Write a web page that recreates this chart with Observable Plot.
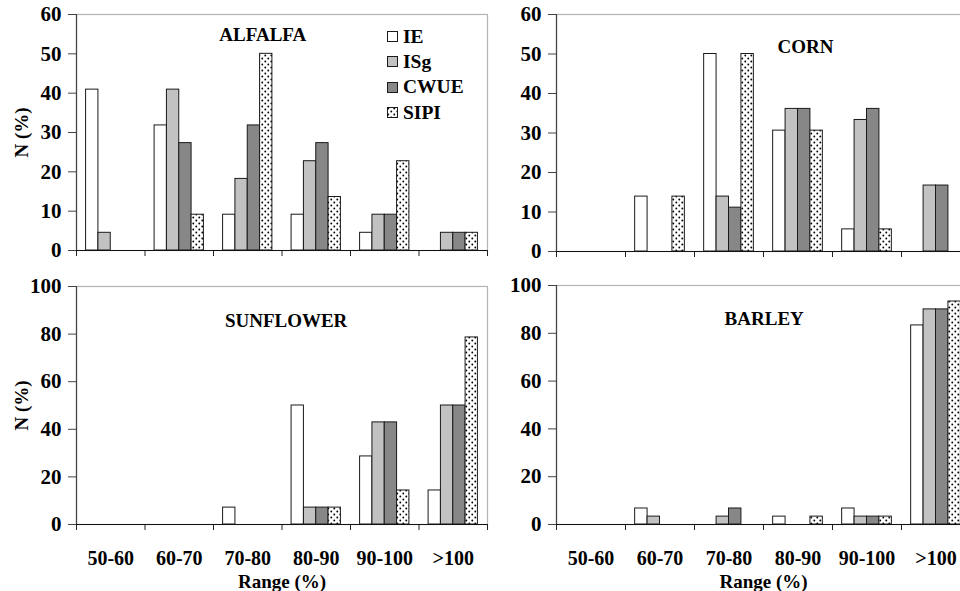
<!DOCTYPE html>
<html>
<head>
<meta charset="utf-8">
<script src="https://cdn.jsdelivr.net/npm/d3@7"></script>
<script src="https://cdn.jsdelivr.net/npm/@observablehq/plot@0.6"></script>
<style>
  body { margin: 0; background: #fff; }
  #chart { position: relative; width: 960px; height: 591px; overflow: hidden; background: #fff;
           font-family: "Liberation Serif", "Times New Roman", serif; }
  #chart > svg.panel { position: absolute; }
  #chart svg text { font-family: "Liberation Serif", "Times New Roman", serif !important; font-weight: bold; font-size: 19px; }
  #chart svg .yticks text { font-size: 21px; }
  #chart svg .xlabels text { font-size: 20px; }
  #legend { position: absolute; left: 387px; top: 24px; font: bold 19.5px "Liberation Serif", serif; color: #000; }
  #legend .row { height: 25.3px; display: flex; align-items: center; }
  #legend .row svg { display: block; margin-right: 5px; }
</style>
</head>
<body>
<div id="chart">
  <svg width="0" height="0" style="position:absolute">
    <defs>
      <pattern id="dots" width="6" height="6" patternUnits="userSpaceOnUse">
        <rect width="6" height="6" fill="#fff"></rect>
        <circle cx="1.3" cy="1.5" r="0.95" fill="#000"></circle>
        <circle cx="4.3" cy="4.5" r="0.95" fill="#000"></circle>
      </pattern>
    </defs>
  </svg>
</div>
<script>
// ---- data ----
const ranges = ["50-60", "60-70", "70-80", "80-90", "90-100", ">100"];
const series = ["IE", "ISg", "CWUE", "SIPI"];
const crops = ["ALFALFA", "CORN", "SUNFLOWER", "BARLEY"];
const yTicksTop = [0, 10, 20, 30, 40, 50, 60];
const yTicksBottom = [0, 20, 40, 60, 80, 100];

// rows: series (IE, ISg, CWUE, SIPI); columns: ranges
const alfalfa = [
  [40.9, 31.8, 9.1, 9.1, 4.5, 0],
  [4.5, 40.9, 18.2, 22.7, 9.1, 4.5],
  [0, 27.3, 31.8, 27.3, 9.1, 4.5],
  [0, 9.1, 50.0, 13.6, 22.7, 4.5]
];
const corn = [
  [0, 13.9, 50.0, 30.6, 5.6, 0],
  [0, 0, 13.9, 36.1, 33.3, 16.7],
  [0, 0, 11.1, 36.1, 36.1, 16.7],
  [0, 13.9, 50.0, 30.6, 5.6, 0]
];
const sunflower = [
  [0, 0, 7.1, 50.0, 28.6, 14.3],
  [0, 0, 0, 7.1, 42.9, 50.0],
  [0, 0, 0, 7.1, 42.9, 50.0],
  [0, 0, 0, 7.1, 14.3, 78.6]
];
const barley = [
  [0, 6.7, 0, 3.3, 6.7, 83.3],
  [0, 3.3, 3.3, 0, 3.3, 90.0],
  [0, 0, 6.7, 0, 3.3, 90.0],
  [0, 0, 0, 3.3, 3.3, 93.3]
];
const fills = ["#ffffff", "#c2c2c2", "#878787", "url(#dots)"];

// ---- drawing ----
const chart = document.getElementById("chart");
const GROUP_PAD = 0.14, BAR_W = 0.18;

function toRows(matrix) {
  const rows = [];
  matrix.forEach((vals, s) => vals.forEach((v, i) => {
    if (v > 0) rows.push({series: series[s], s, i, value: v});
  }));
  return rows;
}

function panel(o) {
  const rows = toRows(o.data);
  const p = Plot.plot({
    width: o.width,
    height: o.height,
    marginLeft: 76,
    marginRight: o.width - 76 - o.rangeW,
    marginTop: o.marginTop,
    marginBottom: o.marginBottom,
    x: {domain: [0, ranges.length], axis: null},
    y: {domain: [0, o.yMax], axis: null},
    color: {domain: series, range: fills},
    style: {background: "none", fontSize: "19px", color: "#000", overflow: "visible"},
    marks: [
      Plot.frame({stroke: "#b4b4b4", strokeWidth: 1.2}),
      Plot.rectY(rows, {
        x1: d => d.i + GROUP_PAD + d.s * BAR_W,
        x2: d => d.i + GROUP_PAD + (d.s + 1) * BAR_W,
        y: "value",
        fill: "series",
        stroke: "#1a1a1a",
        strokeWidth: 1
      }),
      Plot.axisY({ticks: o.yTicks, tickSize: 8, tickPadding: 7, stroke: "#444", label: null, className: "yticks"}),
      Plot.ruleX([0], {stroke: "#444", strokeWidth: 1.2}),
      Plot.axisX({ticks: d3.range(ranges.length + 1), tickSize: 6, tickFormat: () => "", stroke: "#222", label: null}),
      o.xLabels ? Plot.axisX({ticks: ranges.map((r, i) => i + 0.5), tickSize: 0, tickPadding: 26,
                              tickFormat: v => ranges[Math.floor(v)], label: null, className: "xlabels"}) : null,
      o.xLabels ? Plot.text(["Range (%)"], {x: () => ranges.length / 2, frameAnchor: "bottom", lineAnchor: "top", dy: 50, text: d => d}) : null,
      o.yLabel ? Plot.text(["N (%)"], {frameAnchor: "left", rotate: -90, dx: -55, textAnchor: "middle", lineAnchor: "middle", text: d => d}) : null,
      Plot.ruleY([0], {stroke: "#111", strokeWidth: 1.2}),
      Plot.text([o.title], {x: () => o.titleX, frameAnchor: "top", lineAnchor: "top", dy: o.titleDy, text: d => d})
    ]
  });
  p.classList.add("panel");
  p.style.left = o.left + "px";
  p.style.top = o.top + "px";
  chart.appendChild(p);
  return p;
}

const p1 = panel({data: alfalfa, title: crops[0], titleX: 2.72, titleDy: 13, yMax: 60, yTicks: yTicksTop,
  left: 0, top: 0, width: 490, rangeW: 411, height: 270, marginTop: 14, marginBottom: 20, yLabel: true, xLabels: false});
panel({data: corn, title: crops[1], titleX: 3.61, titleDy: 25, yMax: 60, yTicks: yTicksTop,
  left: 480, top: 0, width: 494, rangeW: 414, height: 270, marginTop: 14, marginBottom: 19, yLabel: false, xLabels: false});
panel({data: sunflower, title: crops[2], titleX: 3.06, titleDy: 27, yMax: 100, yTicks: yTicksBottom,
  left: 0, top: 270, width: 490, rangeW: 411, height: 321, marginTop: 16, marginBottom: 67, yLabel: true, xLabels: true});
panel({data: barley, title: crops[3], titleX: 3.01, titleDy: 26, yMax: 100, yTicks: yTicksBottom,
  left: 480, top: 270, width: 494, rangeW: 414, height: 321, marginTop: 15, marginBottom: 67, yLabel: false, xLabels: true});

// legend (colours taken from the plot's color scale)
const colorScale = p1.scale("color");
const legend = document.createElement("div");
legend.id = "legend";
series.forEach((s, k) => {
  const row = document.createElement("div");
  row.className = "row";
  row.innerHTML = `<svg width="11" height="11"><rect x="0.5" y="0.5" width="10" height="10" fill="${colorScale.range[k]}" stroke="#1a1a1a"></rect></svg><span>${s}</span>`;
  legend.appendChild(row);
});
chart.appendChild(legend);
</script>
</body>
</html>
